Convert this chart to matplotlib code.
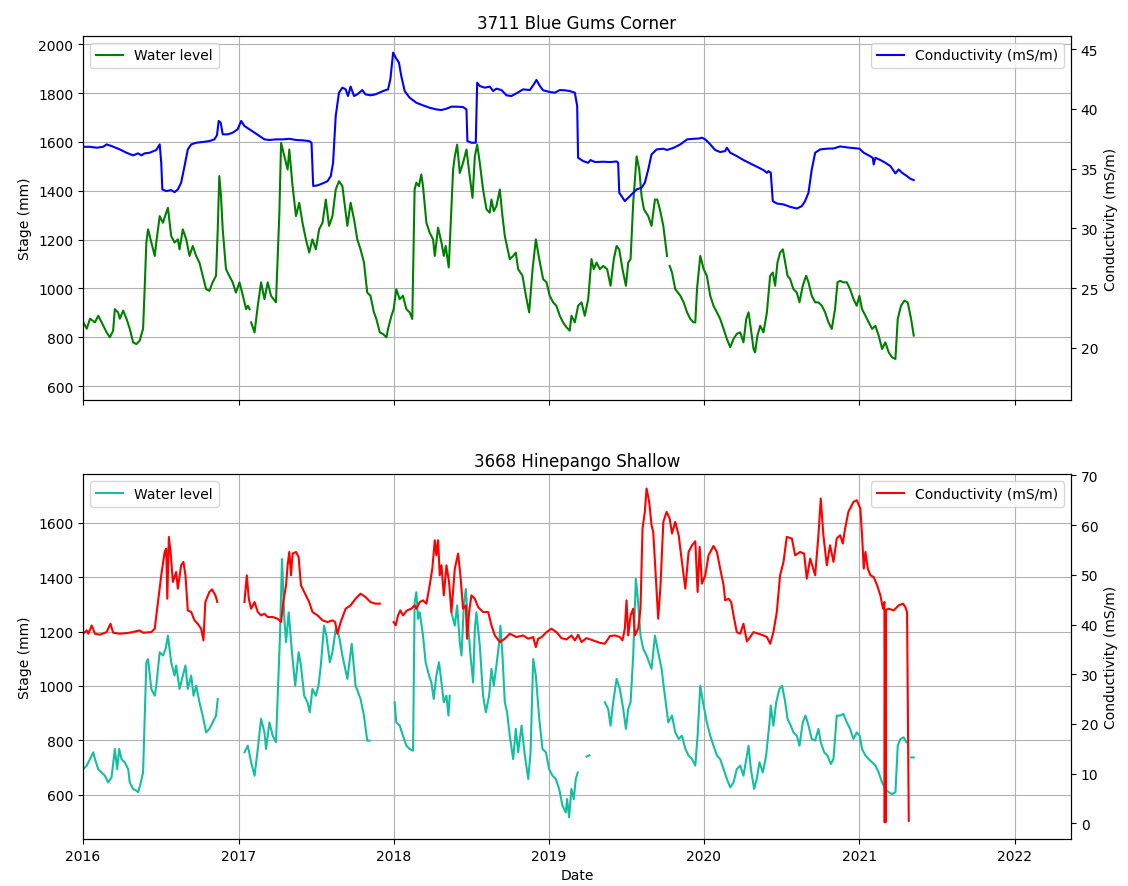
import numpy as np
import pandas as pd
import matplotlib
matplotlib.use("Agg")
import matplotlib.pyplot as plt
import matplotlib.dates as mdates

nan = np.nan

# --- 3711 Blue Gums Corner -------------------------------------------------
# times are decimal years, gaps in the record are NaN
bg_level_t = [
    2016.002, 2016.024, 2016.045, 2016.077, 2016.098, 2016.120, 2016.152, 2016.173, 2016.194, 2016.205,
    2016.226, 2016.237, 2016.259, 2016.280, 2016.301, 2016.323, 2016.344, 2016.365, 2016.387, 2016.397,
    2016.408, 2016.419, 2016.440, 2016.462, 2016.472, 2016.494, 2016.515, 2016.532, 2016.547, 2016.568,
    2016.590, 2016.611, 2016.622, 2016.643, 2016.665, 2016.686, 2016.707, 2016.729, 2016.750, 2016.771,
    2016.793, 2016.814, 2016.835, 2016.857, 2016.868, 2016.878, 2016.889, 2016.900, 2016.921, 2016.942,
    2016.964, 2016.985, 2017.006, 2017.028, 2017.049, 2017.060, 2017.071, 2017.076, 2017.081, 2017.103,
    2017.124, 2017.145, 2017.167, 2017.188, 2017.209, 2017.241, 2017.263, 2017.274, 2017.295, 2017.316,
    2017.327, 2017.348, 2017.370, 2017.391, 2017.412, 2017.434, 2017.455, 2017.476, 2017.498, 2017.519,
    2017.541, 2017.562, 2017.583, 2017.605, 2017.626, 2017.647, 2017.669, 2017.690, 2017.701, 2017.722,
    2017.744, 2017.765, 2017.786, 2017.808, 2017.829, 2017.850, 2017.872, 2017.888, 2017.910, 2017.931,
    2017.953, 2017.963, 2017.985, 2018.000, 2018.017, 2018.039, 2018.060, 2018.082, 2018.103, 2018.120,
    2018.135, 2018.146, 2018.163, 2018.178, 2018.189, 2018.211, 2018.232, 2018.254, 2018.265, 2018.286,
    2018.308, 2018.323, 2018.335, 2018.355, 2018.368, 2018.383, 2018.394, 2018.409, 2018.426, 2018.447,
    2018.469, 2018.490, 2018.508, 2018.523, 2018.538, 2018.555, 2018.576, 2018.598, 2018.619, 2018.630,
    2018.645, 2018.662, 2018.684, 2018.701, 2018.716, 2018.748, 2018.770, 2018.787, 2018.802, 2018.830,
    2018.852, 2018.873, 2018.895, 2018.916, 2018.938, 2018.963, 2018.985, 2019.006, 2019.028, 2019.049,
    2019.071, 2019.092, 2019.114, 2019.135, 2019.146, 2019.168, 2019.189, 2019.211, 2019.232, 2019.254,
    2019.275, 2019.290, 2019.308, 2019.329, 2019.351, 2019.376, 2019.398, 2019.419, 2019.437, 2019.454,
    2019.475, 2019.497, 2019.512, 2019.527, 2019.544, 2019.566, 2019.583, 2019.598, 2019.613, 2019.641,
    2019.662, 2019.684, 2019.699, 2019.716, 2019.738, 2019.762, 2019.768, 2019.779, 2019.794, 2019.815,
    2019.848, 2019.869, 2019.891, 2019.912, 2019.933, 2019.944, 2019.955, 2019.976, 2019.998, 2020.019,
    2020.041, 2020.062, 2020.084, 2020.105, 2020.127, 2020.148, 2020.170, 2020.191, 2020.212, 2020.234,
    2020.255, 2020.273, 2020.288, 2020.303, 2020.320, 2020.330, 2020.345, 2020.363, 2020.384, 2020.406,
    2020.427, 2020.444, 2020.459, 2020.474, 2020.491, 2020.509, 2020.524, 2020.539, 2020.556, 2020.577,
    2020.599, 2020.616, 2020.637, 2020.659, 2020.674, 2020.695, 2020.717, 2020.738, 2020.760, 2020.781,
    2020.803, 2020.824, 2020.845, 2020.861, 2020.878, 2020.899, 2020.921, 2020.942, 2020.964, 2020.985,
    2021.000, 2021.017, 2021.039, 2021.060, 2021.082, 2021.103, 2021.124, 2021.146, 2021.167, 2021.189,
    2021.210, 2021.232, 2021.247, 2021.268, 2021.290, 2021.311, 2021.333, 2021.350,
]
bg_level_v = [
    861, 835, 876, 861, 888, 861, 820, 800, 827, 915,
    902, 876, 909, 876, 835, 779, 772, 786, 835, 997,
    1188, 1242, 1188, 1133, 1188, 1296, 1269, 1303, 1330, 1215,
    1188, 1201, 1160, 1242, 1201, 1133, 1174, 1133, 1106, 1052,
    997, 990, 1025, 1052, 1242, 1460, 1378, 1242, 1079, 1052,
    1025, 983, 1025, 970, 915, 929, 915, nan, 861, 820,
    929, 1025, 956, 1025, 970, 943, 1310, 1596, 1541, 1487,
    1569, 1419, 1296, 1351, 1269, 1201, 1147, 1201, 1160, 1242,
    1269, 1364, 1256, 1296, 1405, 1439, 1419, 1310, 1256, 1351,
    1283, 1201, 1160, 1106, 983, 970, 902, 875, 820, 813,
    800, 834, 888, 915, 997, 956, 970, 915, 902, 875,
    1405, 1433, 1419, 1467, 1419, 1269, 1228, 1201, 1133, 1249,
    1188, 1133, 1174, 1086, 1269, 1487, 1541, 1589, 1473, 1514,
    1569, 1460, 1371, 1541, 1589, 1514, 1405, 1324, 1310, 1364,
    1317, 1337, 1405, 1296, 1215, 1120, 1133, 1147, 1079, 1052,
    970, 902, 1079, 1201, 1120, 1038, 1025, 970, 943, 929,
    888, 861, 841, 827, 888, 861, 929, 943, 888, 956,
    1120, 1079, 1106, 1079, 1092, 1079, 1011, 1120, 1174, 1160,
    1079, 1011, 1106, 1120, 1351, 1541, 1487, 1378, 1324, 1296,
    1256, 1364, 1364, 1324, 1256, 1133, nan, 1092, 1065, 997,
    970, 943, 902, 875, 861, 861, 997, 1133, 1079, 1052,
    970, 929, 902, 875, 834, 793, 759, 793, 814, 820,
    779, 875, 902, 834, 752, 738, 807, 847, 820, 902,
    1052, 1065, 1011, 1106, 1147, 1160, 1106, 1052, 1038, 997,
    983, 943, 1011, 1052, 1025, 970, 943, 943, 929, 902,
    861, 834, 915, 1025, 1031, 1025, 1025, 997, 956, 929,
    970, 915, 888, 861, 834, 847, 807, 752, 779, 738,
    718, 711, 875, 929, 950, 943, 875, 807,
]

bg_cond_t = [
    2016.002, 2016.045, 2016.088, 2016.130, 2016.152, 2016.184, 2016.237, 2016.280, 2016.323, 2016.355,
    2016.376, 2016.397, 2016.429, 2016.472, 2016.494, 2016.504, 2016.511, 2016.536, 2016.568, 2016.590,
    2016.611, 2016.632, 2016.654, 2016.675, 2016.697, 2016.729, 2016.771, 2016.814, 2016.846, 2016.863,
    2016.874, 2016.887, 2016.900, 2016.932, 2016.964, 2016.996, 2017.017, 2017.038, 2017.071, 2017.103,
    2017.135, 2017.167, 2017.199, 2017.241, 2017.284, 2017.327, 2017.370, 2017.412, 2017.455, 2017.470,
    2017.481, 2017.509, 2017.541, 2017.573, 2017.594, 2017.609, 2017.626, 2017.647, 2017.669, 2017.690,
    2017.705, 2017.722, 2017.744, 2017.765, 2017.797, 2017.818, 2017.850, 2017.882, 2017.931, 2017.963,
    2017.978, 2017.996, 2018.013, 2018.034, 2018.049, 2018.071, 2018.103, 2018.146, 2018.189, 2018.232,
    2018.275, 2018.308, 2018.340, 2018.372, 2018.404, 2018.447, 2018.469, 2018.475, 2018.501, 2018.529,
    2018.538, 2018.555, 2018.587, 2018.619, 2018.641, 2018.662, 2018.695, 2018.727, 2018.759, 2018.791,
    2018.834, 2018.877, 2018.903, 2018.920, 2018.942, 2018.963, 2019.006, 2019.039, 2019.071, 2019.103,
    2019.135, 2019.168, 2019.183, 2019.189, 2019.222, 2019.254, 2019.269, 2019.297, 2019.351, 2019.394,
    2019.437, 2019.447, 2019.454, 2019.469, 2019.490, 2019.512, 2019.544, 2019.566, 2019.598, 2019.619,
    2019.641, 2019.662, 2019.695, 2019.738, 2019.762, 2019.805, 2019.848, 2019.891, 2019.933, 2019.966,
    2019.987, 2020.009, 2020.041, 2020.073, 2020.105, 2020.137, 2020.148, 2020.170, 2020.212, 2020.255,
    2020.298, 2020.341, 2020.384, 2020.406, 2020.416, 2020.431, 2020.444, 2020.470, 2020.513, 2020.556,
    2020.599, 2020.631, 2020.652, 2020.674, 2020.695, 2020.717, 2020.749, 2020.792, 2020.835, 2020.878,
    2020.921, 2020.964, 2021.000, 2021.028, 2021.060, 2021.086, 2021.092, 2021.103, 2021.135, 2021.167,
    2021.200, 2021.232, 2021.253, 2021.275, 2021.307, 2021.328, 2021.350,
]
bg_cond_v = [
    36.83, 36.83, 36.75, 36.83, 37.03, 36.89, 36.61, 36.33, 36.11, 36.28,
    36.11, 36.28, 36.33, 36.56, 37.03, 35.49, 33.26, 33.12, 33.20, 33.03,
    33.26, 33.82, 35.21, 36.61, 37.03, 37.17, 37.23, 37.31, 37.45, 37.79,
    38.99, 38.85, 37.87, 37.87, 38.01, 38.29, 38.99, 38.57, 38.29, 38.01,
    37.73, 37.45, 37.40, 37.45, 37.45, 37.50, 37.40, 37.37, 37.31, 37.17,
    33.54, 33.60, 33.76, 33.95, 34.37, 35.49, 39.41, 41.36, 41.78, 41.64,
    41.08, 41.87, 41.08, 41.22, 41.58, 41.22, 41.14, 41.22, 41.50, 41.64,
    42.48, 44.72, 44.30, 43.88, 42.76, 41.50, 40.94, 40.52, 40.30, 40.10,
    39.96, 39.91, 40.02, 40.19, 40.19, 40.16, 39.96, 37.31, 37.17, 37.17,
    42.20, 41.92, 41.78, 41.87, 41.50, 41.70, 41.58, 41.14, 41.08, 41.31,
    41.64, 41.58, 42.06, 42.43, 41.92, 41.56, 41.42, 41.36, 41.58, 41.56,
    41.50, 41.36, 40.25, 35.91, 35.63, 35.49, 35.72, 35.55, 35.58, 35.55,
    35.60, 35.49, 32.98, 32.70, 32.28, 32.56, 32.98, 33.26, 33.40, 33.82,
    34.93, 36.19, 36.61, 36.67, 36.56, 36.75, 37.03, 37.45, 37.50, 37.52,
    37.59, 37.45, 37.03, 36.56, 36.39, 36.47, 36.75, 36.33, 36.05, 35.72,
    35.44, 35.16, 34.88, 34.65, 34.79, 34.65, 32.28, 32.08, 32.00, 31.80,
    31.66, 31.86, 32.28, 32.98, 34.93, 36.33, 36.61, 36.67, 36.69, 36.86,
    36.78, 36.72, 36.67, 36.33, 36.11, 35.91, 35.35, 35.91, 35.72, 35.49,
    35.21, 34.60, 34.93, 34.65, 34.37, 34.15, 34.04,
]

# --- 3668 Hinepango Shallow -----------------------------------------------
hs_level_t = [
    2016.002, 2016.024, 2016.045, 2016.066, 2016.077, 2016.098, 2016.120, 2016.141, 2016.162, 2016.184,
    2016.205, 2016.220, 2016.233, 2016.248, 2016.269, 2016.291, 2016.301, 2016.323, 2016.344, 2016.355,
    2016.370, 2016.387, 2016.397, 2016.408, 2016.419, 2016.440, 2016.462, 2016.472, 2016.494, 2016.515,
    2016.532, 2016.547, 2016.568, 2016.590, 2016.600, 2016.622, 2016.643, 2016.660, 2016.675, 2016.697,
    2016.712, 2016.729, 2016.750, 2016.771, 2016.793, 2016.814, 2016.835, 2016.857, 2016.868, 2016.950,
    2017.038, 2017.060, 2017.081, 2017.103, 2017.124, 2017.145, 2017.167, 2017.177, 2017.199, 2017.220,
    2017.241, 2017.259, 2017.267, 2017.280, 2017.295, 2017.306, 2017.323, 2017.344, 2017.365, 2017.387,
    2017.402, 2017.423, 2017.444, 2017.459, 2017.476, 2017.498, 2017.515, 2017.530, 2017.551, 2017.566,
    2017.588, 2017.605, 2017.626, 2017.647, 2017.669, 2017.701, 2017.729, 2017.754, 2017.786, 2017.808,
    2017.829, 2017.844, 2017.920, 2018.006, 2018.017, 2018.039, 2018.060, 2018.082, 2018.103, 2018.125,
    2018.135, 2018.146, 2018.157, 2018.168, 2018.189, 2018.206, 2018.228, 2018.243, 2018.258, 2018.275,
    2018.292, 2018.308, 2018.323, 2018.340, 2018.353, 2018.361, 2018.366, 2018.372, 2018.394, 2018.409,
    2018.426, 2018.437, 2018.452, 2018.465, 2018.480, 2018.495, 2018.512, 2018.523, 2018.533, 2018.555,
    2018.576, 2018.594, 2018.615, 2018.630, 2018.645, 2018.662, 2018.680, 2018.688, 2018.701, 2018.716,
    2018.731, 2018.748, 2018.770, 2018.787, 2018.802, 2018.824, 2018.845, 2018.867, 2018.882, 2018.899,
    2018.916, 2018.938, 2018.959, 2018.981, 2019.002, 2019.024, 2019.045, 2019.067, 2019.088, 2019.110,
    2019.118, 2019.131, 2019.146, 2019.161, 2019.174, 2019.187, 2019.210, 2019.243, 2019.262, 2019.300,
    2019.361, 2019.383, 2019.398, 2019.415, 2019.437, 2019.458, 2019.480, 2019.497, 2019.512, 2019.527,
    2019.544, 2019.561, 2019.576, 2019.591, 2019.609, 2019.630, 2019.662, 2019.684, 2019.705, 2019.727,
    2019.748, 2019.770, 2019.794, 2019.815, 2019.837, 2019.858, 2019.880, 2019.901, 2019.923, 2019.944,
    2019.959, 2019.976, 2019.994, 2020.019, 2020.041, 2020.062, 2020.084, 2020.105, 2020.127, 2020.148,
    2020.170, 2020.191, 2020.212, 2020.234, 2020.255, 2020.273, 2020.288, 2020.303, 2020.324, 2020.341,
    2020.358, 2020.380, 2020.401, 2020.423, 2020.431, 2020.448, 2020.466, 2020.487, 2020.504, 2020.524,
    2020.539, 2020.560, 2020.577, 2020.599, 2020.616, 2020.637, 2020.655, 2020.674, 2020.695, 2020.717,
    2020.738, 2020.753, 2020.775, 2020.796, 2020.818, 2020.835, 2020.856, 2020.878, 2020.899, 2020.921,
    2020.942, 2020.964, 2020.985, 2021.002, 2021.017, 2021.039, 2021.060, 2021.082, 2021.103, 2021.124,
    2021.146, 2021.167, 2021.189, 2021.210, 2021.232, 2021.247, 2021.264, 2021.285, 2021.303, 2021.318,
    2021.333, 2021.350,
]
hs_level_v = [
    694, 707, 731, 756, 731, 694, 682, 670, 645, 664,
    768, 694, 768, 731, 719, 694, 645, 621, 615, 609,
    639, 682, 879, 1087, 1099, 989, 964, 1001, 1124, 1112,
    1136, 1185, 1087, 1038, 1075, 989, 1038, 1075, 989, 1038,
    964, 1001, 940, 891, 829, 842, 866, 891, 952, nan,
    756, 780, 719, 670, 768, 879, 829, 768, 866, 817,
    793, 1063, 1185, 1467, 1247, 1161, 1271, 1124, 1001, 1124,
    1075, 964, 940, 903, 989, 964, 1001, 1075, 1222, 1185,
    1087, 1124, 1210, 1185, 1112, 1026, 1155, 1001, 952, 891,
    799, 799, nan, 940, 866, 854, 817, 780, 768, 762,
    1308, 1345, 1247, 1271, 1185, 1087, 1038, 1013, 952, 1038,
    1087, 1013, 940, 964, 891, 964, nan, 1271, 1222, 1296,
    1161, 1112, 1296, 1357, 1222, 1112, 1013, 1210, 1271, 1148,
    964, 903, 964, 1063, 1001, 1075, 1161, 1222, 1112, 940,
    903, 817, 731, 842, 756, 854, 744, 658, 756, 1099,
    1038, 879, 768, 756, 694, 670, 658, 621, 560, 535,
    584, 517, 621, 584, 658, 682, nan, 740, 745, nan,
    940, 915, 854, 940, 1026, 989, 915, 842, 915, 940,
    1112, 1394, 1308, 1185, 1136, 1112, 1063, 1185, 1124, 1063,
    964, 866, 891, 829, 805, 817, 768, 744, 731, 707,
    817, 1001, 940, 866, 817, 780, 744, 731, 694, 658,
    627, 645, 694, 707, 670, 731, 780, 694, 621, 658,
    719, 682, 744, 866, 928, 854, 940, 989, 1001, 940,
    879, 854, 829, 817, 780, 866, 891, 854, 805, 799,
    842, 793, 756, 744, 713, 731, 891, 891, 897, 866,
    842, 805, 829, 817, 768, 744, 731, 719, 707, 682,
    645, 621, 609, 602, 609, 780, 805, 811, 793, nan,
    737, 737,
]

hs_cond_t = [
    2016.002, 2016.024, 2016.034, 2016.056, 2016.077, 2016.109, 2016.152, 2016.177, 2016.194, 2016.237,
    2016.301, 2016.365, 2016.387, 2016.440, 2016.462, 2016.483, 2016.504, 2016.526, 2016.536, 2016.543,
    2016.553, 2016.564, 2016.579, 2016.600, 2016.611, 2016.632, 2016.647, 2016.660, 2016.675, 2016.697,
    2016.718, 2016.739, 2016.761, 2016.776, 2016.788, 2016.814, 2016.831, 2016.853, 2016.865, 2016.950,
    2017.038, 2017.053, 2017.066, 2017.081, 2017.103, 2017.124, 2017.145, 2017.167, 2017.188, 2017.220,
    2017.252, 2017.274, 2017.288, 2017.306, 2017.316, 2017.327, 2017.338, 2017.348, 2017.370, 2017.387,
    2017.402, 2017.434, 2017.455, 2017.476, 2017.509, 2017.541, 2017.573, 2017.605, 2017.622, 2017.637,
    2017.658, 2017.690, 2017.722, 2017.754, 2017.786, 2017.818, 2017.850, 2017.882, 2017.910, 2017.950,
    2018.000, 2018.013, 2018.028, 2018.043, 2018.060, 2018.086, 2018.114, 2018.135, 2018.146, 2018.168,
    2018.189, 2018.211, 2018.232, 2018.249, 2018.265, 2018.275, 2018.286, 2018.297, 2018.308, 2018.323,
    2018.340, 2018.357, 2018.372, 2018.394, 2018.415, 2018.430, 2018.447, 2018.465, 2018.473, 2018.486,
    2018.501, 2018.523, 2018.544, 2018.576, 2018.609, 2018.630, 2018.652, 2018.684, 2018.716, 2018.748,
    2018.791, 2018.834, 2018.867, 2018.899, 2018.916, 2018.931, 2018.953, 2018.985, 2019.017, 2019.049,
    2019.082, 2019.114, 2019.146, 2019.168, 2019.189, 2019.211, 2019.243, 2019.286, 2019.329, 2019.361,
    2019.394, 2019.426, 2019.458, 2019.475, 2019.490, 2019.501, 2019.512, 2019.527, 2019.544, 2019.555,
    2019.576, 2019.591, 2019.604, 2019.619, 2019.630, 2019.647, 2019.662, 2019.673, 2019.690, 2019.705,
    2019.720, 2019.738, 2019.759, 2019.779, 2019.794, 2019.815, 2019.837, 2019.858, 2019.880, 2019.901,
    2019.923, 2019.944, 2019.959, 2019.972, 2019.987, 2020.009, 2020.030, 2020.062, 2020.084, 2020.105,
    2020.127, 2020.137, 2020.159, 2020.176, 2020.191, 2020.212, 2020.234, 2020.255, 2020.277, 2020.298,
    2020.320, 2020.352, 2020.384, 2020.406, 2020.427, 2020.448, 2020.470, 2020.491, 2020.513, 2020.534,
    2020.567, 2020.588, 2020.620, 2020.646, 2020.663, 2020.685, 2020.717, 2020.738, 2020.753, 2020.770,
    2020.792, 2020.813, 2020.835, 2020.856, 2020.878, 2020.895, 2020.910, 2020.931, 2020.964, 2020.985,
    2021.006, 2021.017, 2021.028, 2021.039, 2021.054, 2021.071, 2021.092, 2021.114, 2021.135, 2021.152,
    2021.161, 2021.163, 2021.166, 2021.168, 2021.171, 2021.174, 2021.189, 2021.221, 2021.253, 2021.281,
    2021.296, 2021.307, 2021.318,
]
hs_cond_v = [
    38.15, 38.82, 38.15, 39.80, 38.15, 37.95, 38.48, 40.16, 38.35, 38.15,
    38.35, 38.82, 38.35, 38.48, 39.16, 44.53, 49.91, 54.61, 55.28, 45.20,
    57.64, 54.61, 48.56, 50.58, 47.22, 51.92, 52.60, 49.91, 42.85, 42.52,
    40.84, 40.16, 39.16, 36.80, 44.53, 46.55, 47.08, 45.88, 44.53, nan,
    44.53, 49.91, 45.20, 43.19, 44.53, 42.52, 41.84, 42.18, 41.51, 41.51,
    41.17, 40.50, 44.53, 47.89, 51.92, 54.61, 49.91, 54.27, 54.61, 53.60,
    47.89, 45.88, 44.53, 42.52, 41.84, 40.84, 40.50, 40.84, 40.50, 38.15,
    40.50, 43.19, 43.86, 45.20, 46.21, 45.54, 44.53, 44.20, 44.20, nan,
    40.50, 39.83, 41.84, 42.85, 41.84, 42.85, 43.19, 43.86, 43.19, 44.53,
    44.87, 44.20, 47.89, 51.25, 56.96, 53.94, 56.96, 49.91, 51.92, 45.88,
    51.92, 48.56, 42.52, 51.25, 54.27, 49.91, 43.19, 43.86, 37.14, 42.52,
    45.88, 45.20, 43.52, 42.52, 42.52, 39.83, 37.81, 36.47, 37.14, 38.15,
    37.48, 37.81, 37.14, 37.48, 35.46, 37.14, 37.48, 38.48, 39.16, 38.48,
    37.27, 37.00, 37.81, 36.80, 37.95, 36.47, 37.27, 36.80, 36.33, 36.13,
    37.68, 37.81, 37.48, 36.80, 39.16, 44.87, 37.81, 41.84, 43.19, 37.81,
    39.16, 43.19, 59.32, 62.68, 67.38, 64.69, 59.99, 58.64, 49.24, 41.17,
    47.89, 60.66, 62.68, 61.33, 58.31, 60.66, 57.97, 52.60, 47.22, 54.61,
    55.96, 56.76, 46.55, 55.62, 48.23, 49.91, 53.94, 55.82, 54.61, 51.25,
    47.89, 44.87, 45.20, 44.53, 41.84, 38.48, 38.15, 40.16, 36.60, 37.48,
    38.48, 38.15, 37.81, 37.48, 36.13, 38.48, 42.52, 49.91, 52.60, 57.64,
    57.31, 53.94, 54.61, 54.27, 49.24, 53.27, 49.91, 57.97, 65.36, 57.97,
    51.92, 55.96, 52.60, 57.31, 57.97, 56.29, 59.32, 62.68, 64.69, 65.03,
    63.35, 57.97, 51.25, 54.61, 51.25, 49.91, 49.57, 47.89, 45.88, 43.19,
    44.53, 0.2, 42.52, 0.2, 42.80, 43.00, 43.19, 42.85, 43.86, 44.20,
    43.50, 42.52, 0.5,
]


def to_dates(years):
    """Decimal years -> timestamps."""
    out = []
    for y in years:
        base = int(y)
        out.append(pd.Timestamp(f"{base}-01-01") + pd.Timedelta(days=(y - base) * 365.25))
    return out


stations = [
    ("3711 Blue Gums Corner", bg_level_t, bg_level_v, bg_cond_t, bg_cond_v,
     "green", "blue", (541, 2034), (15.58, 46.11)),
    ("3668 Hinepango Shallow", hs_level_t, hs_level_v, hs_cond_t, hs_cond_v,
     "#14bf9f", "red", (437, 1778), (-3.16, 70.2)),
]

fig, axes = plt.subplots(2, 1, sharex=True, figsize=(11.28, 8.87), dpi=100)
fig.subplots_adjust(left=0.0736, right=0.9495, top=0.9583, bottom=0.053, hspace=0.203)

for ax, (name, lt, lv, ct, cv, lcol, ccol, ylim_l, ylim_r) in zip(axes, stations):
    ax.plot(to_dates(lt), lv, color=lcol, lw=1.5, label="Water level")
    ax.set_ylim(*ylim_l)
    ax.set_ylabel("Stage (mm)")
    ax.grid(True)
    ax.legend(loc="upper left")
    ax.set_title(name)

    ax2 = ax.twinx()
    ax2.plot(to_dates(ct), cv, color=ccol, lw=1.5, label="Conductivity (mS/m)")
    ax2.set_ylim(*ylim_r)
    ax2.set_ylabel("Conductivity (mS/m)")
    ax2.legend(loc="upper right")

axes[1].set_xlim(pd.Timestamp("2016-01-01"), pd.Timestamp("2022-05-14"))
axes[1].xaxis.set_major_locator(mdates.YearLocator())
axes[1].xaxis.set_major_formatter(mdates.DateFormatter("%Y"))
axes[1].set_xlabel("Date")

fig.savefig("out.png", dpi=100)
